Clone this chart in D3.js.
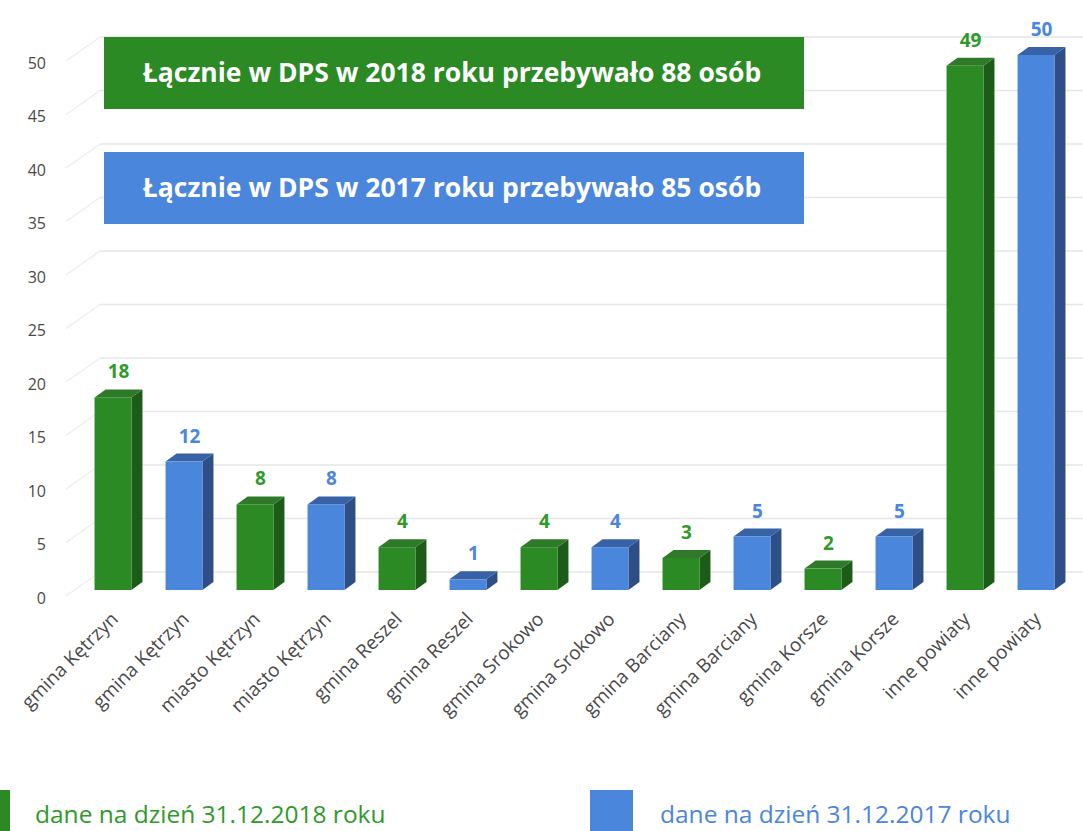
<!DOCTYPE html>
<html>
<head>
<meta charset="utf-8">
<script src="https://cdn.jsdelivr.net/npm/d3@7"></script>
<style>
  body { margin: 0; background: #fff; }
  svg text { font-family: "Open Sans", Lato, sans-serif; }
</style>
</head>
<body>
<div id="chart"></div>
<script>
// data
var categories = ["gmina Kętrzyn", "gmina Kętrzyn", "miasto Kętrzyn", "miasto Kętrzyn",
    "gmina Reszel", "gmina Reszel", "gmina Srokowo", "gmina Srokowo",
    "gmina Barciany", "gmina Barciany", "gmina Korsze", "gmina Korsze",
    "inne powiaty", "inne powiaty"];
var years = ["2018", "2017", "2018", "2017", "2018", "2017", "2018", "2017",
    "2018", "2017", "2018", "2017", "2018", "2017"];
var values = [18, 12, 8, 8, 4, 1, 4, 4, 3, 5, 2, 5, 49, 50];
var yTicks = [0, 5, 10, 15, 20, 25, 30, 35, 40, 45, 50];
var boxTexts = ["Łącznie w DPS w 2018 roku przebywało 88 osób",
    "Łącznie w DPS w 2017 roku przebywało 85 osób"];
var legendTexts = ["dane na dzień 31.12.2018 roku", "dane na dzień 31.12.2017 roku"];

var colors = {
    "2018": {front: "#2b8a24", side: "#1d5c18", top: "#2f7a29", label: "#2f9a2a"},
    "2017": {front: "#4a86dc", side: "#2d4e86", top: "#3762a6", label: "#4a86dc"}
};

var width = 1083, height = 831;
var dx = 11, dy = -8; // depth of the 3d bars

var svg = d3.select("#chart")
    .append("svg")
    .attr("width", width)
    .attr("height", height);

var data = values.map(function(v, i) {
    return {key: i, name: categories[i], year: years[i], value: v};
});

var xScale = d3.scaleBand()
    .domain(data.map(d => d.key))
    .range([77.5, 1071.5])
    .paddingInner(0.48)
    .paddingOuter(0.24);

var yScale = d3.scaleLinear()
    .domain([0, 50])
    .range([590, 55]);

// back wall gridlines
var grid = svg.append("g").attr("class", "grid");
grid.selectAll("line.h")
    .data(yTicks)
    .enter()
    .append("line")
    .attr("class", "h")
    .attr("x1", 100)
    .attr("x2", width)
    .attr("y1", d => yScale(d) - 18)
    .attr("y2", d => yScale(d) - 18)
    .attr("stroke", "#e6e6e6")
    .attr("stroke-width", 1.5);
grid.selectAll("line.d")
    .data(yTicks)
    .enter()
    .append("line")
    .attr("class", "d")
    .attr("x1", 66)
    .attr("x2", 100)
    .attr("y1", d => yScale(d) + 6)
    .attr("y2", d => yScale(d) - 18)
    .attr("stroke", "#eeeeee")
    .attr("stroke-width", 1.5);

// y axis labels
var yAxis = svg.append("g")
    .attr("class", "axis y-axis")
    .attr("transform", "translate(46,8)")
    .call(d3.axisLeft(yScale).tickValues(yTicks).tickSize(0).tickPadding(0));
yAxis.select(".domain").remove();
yAxis.selectAll("text")
    .attr("fill", "#4a4a4a")
    .style("font-size", "16px")
    .style("font-family", "'Open Sans', sans-serif");

// x axis labels
var xAxis = svg.append("g")
    .attr("class", "axis x-axis")
    .attr("transform", "translate(0,617)")
    .call(d3.axisBottom(xScale).tickSize(0).tickFormat(i => categories[i]));
xAxis.select(".domain").remove();
xAxis.selectAll("text")
    .attr("fill", "#4a4a4a")
    .style("font-size", "19px")
    .style("font-family", "'Open Sans', sans-serif")
    .attr("text-anchor", "end")
    .attr("dy", "0.35em")
    .attr("y", 0)
    .attr("x", 2)
    .attr("transform", "rotate(-45)");

// 3d bars
var bars = svg.append("g").attr("class", "bars")
    .selectAll("g.bar")
    .data(data)
    .enter()
    .append("g")
    .attr("class", "bar");

var bw = xScale.bandwidth();

bars.append("path")
    .attr("fill", d => colors[d.year].side)
    .attr("d", function(d) {
        var x = xScale(d.key) + bw, y = yScale(d.value), y0 = yScale(0);
        return "M" + x + "," + y + "L" + (x + dx) + "," + (y + dy) +
            "L" + (x + dx) + "," + (y0 + dy) + "L" + x + "," + y0 + "Z";
    });

bars.append("path")
    .attr("fill", d => colors[d.year].top)
    .attr("d", function(d) {
        var x = xScale(d.key), y = yScale(d.value);
        return "M" + x + "," + y + "L" + (x + bw) + "," + y +
            "L" + (x + bw + dx) + "," + (y + dy) + "L" + (x + dx) + "," + (y + dy) + "Z";
    });

bars.append("rect")
    .attr("x", d => xScale(d.key))
    .attr("y", d => yScale(d.value))
    .attr("width", bw)
    .attr("height", d => yScale(0) - yScale(d.value))
    .attr("fill", d => colors[d.year].front);

bars.append("text")
    .attr("x", d => xScale(d.key) + bw / 2 + dx / 2)
    .attr("y", d => yScale(d.value) - 19)
    .attr("text-anchor", "middle")
    .attr("fill", d => colors[d.year].label)
    .style("font-size", "19px")
    .style("font-weight", "bold")
    .text(d => d.value);

// info boxes
var boxes = svg.append("g").attr("class", "boxes")
    .selectAll("g")
    .data(boxTexts)
    .enter()
    .append("g");
boxes.append("rect")
    .attr("x", 104)
    .attr("y", (d, i) => i == 0 ? 37 : 152)
    .attr("width", 700)
    .attr("height", 72)
    .attr("fill", (d, i) => i == 0 ? colors["2018"].front : colors["2017"].front);
boxes.append("text")
    .attr("x", 452)
    .attr("y", (d, i) => (i == 0 ? 37 : 152) + 36)
    .attr("dy", "0.35em")
    .attr("text-anchor", "middle")
    .attr("fill", "#fff")
    .style("font-size", "26.5px")
    .style("font-weight", "bold")
    .text(d => d);

// legend
var legend = svg.append("g").attr("class", "legend");
legend.append("rect")
    .attr("x", -33).attr("y", 790).attr("width", 43).attr("height", 45)
    .attr("fill", colors["2018"].front);
legend.append("rect")
    .attr("x", 590).attr("y", 790).attr("width", 43).attr("height", 45)
    .attr("fill", colors["2017"].front);
legend.append("text")
    .attr("x", 35).attr("y", 823)
    .attr("fill", colors["2018"].label)
    .style("font-size", "24.5px")
    .text(legendTexts[0]);
legend.append("text")
    .attr("x", 660).attr("y", 823)
    .attr("fill", colors["2017"].label)
    .style("font-size", "24.5px")
    .text(legendTexts[1]);
</script>
</body>
</html>
